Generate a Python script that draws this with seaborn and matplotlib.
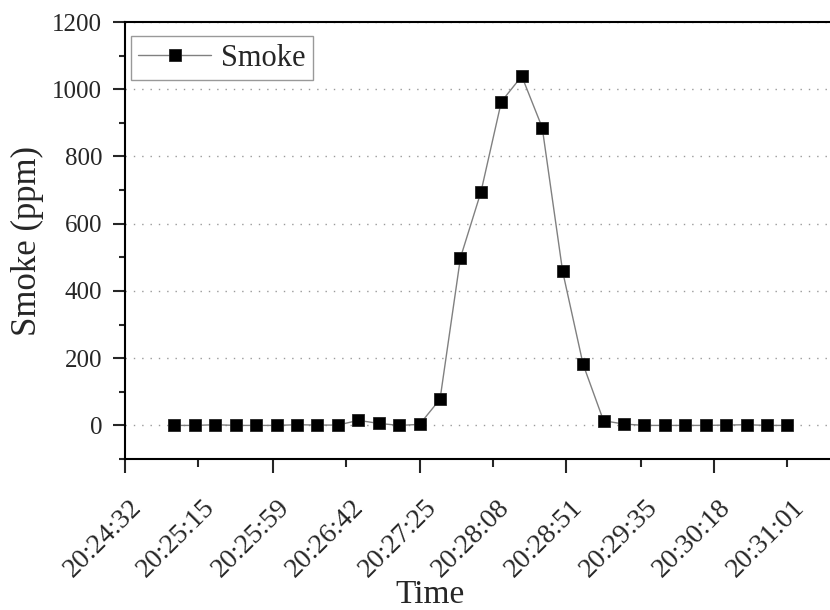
import matplotlib
matplotlib.use("Agg")
import matplotlib.pyplot as plt
import matplotlib.dates as mdates
import matplotlib.transforms as mtransforms
from matplotlib.ticker import MultipleLocator
import seaborn as sns
import pandas as pd

times = ["20:25:01", "20:25:13", "20:25:25", "20:25:37", "20:25:49",
         "20:26:01", "20:26:13", "20:26:25", "20:26:37", "20:26:49",
         "20:27:01", "20:27:13", "20:27:25", "20:27:37", "20:27:49",
         "20:28:01", "20:28:13", "20:28:25", "20:28:37", "20:28:49",
         "20:29:01", "20:29:13", "20:29:25", "20:29:37", "20:29:49",
         "20:30:01", "20:30:13", "20:30:25", "20:30:37", "20:30:49",
         "20:31:01"]
smoke = [0, 0, 2, 0, 0, 0, 2, 1, 1, 15, 6, 0, 3,
         78, 499, 694, 963, 1039, 886, 458, 182,
         14, 4, 0, 0, 0, 0, 1, 2, 0, 0]
tick_labels = ["20:24:32", "20:25:15", "20:25:59", "20:26:42", "20:27:25",
               "20:28:08", "20:28:51", "20:29:35", "20:30:18", "20:31:01"]
x_end = "20:31:26"

sns.set_style("ticks")
plt.rcParams['font.family'] = ['Liberation Serif', 'DejaVu Serif']

def to_dt(lst):
    return pd.to_datetime(["2000-01-01 " + t for t in lst])

df = pd.DataFrame({"Time": to_dt(times), "Smoke": smoke})

fig = plt.figure(figsize=(8.3, 6.1), dpi=100)
ax = fig.add_axes([0.1506, 0.2475, 0.8494, 0.7164])

sns.lineplot(data=df, x="Time", y="Smoke", ax=ax, color="#808080", lw=1,
             marker='s', markersize=8.5, markerfacecolor='black',
             markeredgecolor='#222222', markeredgewidth=0.6, label="Smoke")

tpos = mdates.date2num(to_dt(tick_labels))
ax.set_xticks(tpos[0::2], labels=tick_labels[0::2])
ax.set_xticks(tpos[1::2], labels=tick_labels[1::2], minor=True)
ax.set_xlim(tpos[0], mdates.date2num(to_dt([x_end]))[0])

ax.set_ylim(-100, 1200)
ax.set_yticks(list(range(0, 1201, 200)))
ax.yaxis.set_minor_locator(MultipleLocator(100))

ax.tick_params(axis='x', which='major', direction='out', length=10, width=1.5, labelsize=20, pad=16)
ax.tick_params(axis='x', which='minor', direction='out', length=6, width=1.5, labelsize=20, pad=20)
ax.tick_params(axis='y', which='major', direction='out', length=8.5, width=1.5, labelsize=18, pad=8)
ax.tick_params(axis='y', which='minor', direction='out', length=4.3, width=1.5)
shift = mtransforms.ScaledTranslation(3 / 72, 0, fig.dpi_scale_trans)
for lab in ax.get_xticklabels(which='both'):
    lab.set_rotation(45)
    lab.set_ha('right')
    lab.set_va('top')
    lab.set_rotation_mode('anchor')
    lab.set_transform(lab.get_transform() + shift)

ax.grid(axis='y', which='major', linestyle=(0, (1, 5)), color='#9a9a9a', lw=1)

for s in ['left', 'bottom', 'top']:
    ax.spines[s].set_linewidth(1.5)
    ax.spines[s].set_color('black')
ax.spines['right'].set_visible(False)

ax.set_xlabel("Time", fontsize=24)
ax.xaxis.set_label_coords(0.4326, -0.275)
ax.set_ylabel("Smoke (ppm)", fontsize=25, labelpad=6)

leg = ax.legend(loc='upper left', fontsize=22, frameon=True, fancybox=False,
                edgecolor='#808080', handlelength=2.4, borderaxespad=0.25,
                borderpad=0.25, handletextpad=0.3, bbox_to_anchor=(-0.003, 0.985))
leg.get_frame().set_linewidth(1)

fig.savefig("out.png", dpi=100)
